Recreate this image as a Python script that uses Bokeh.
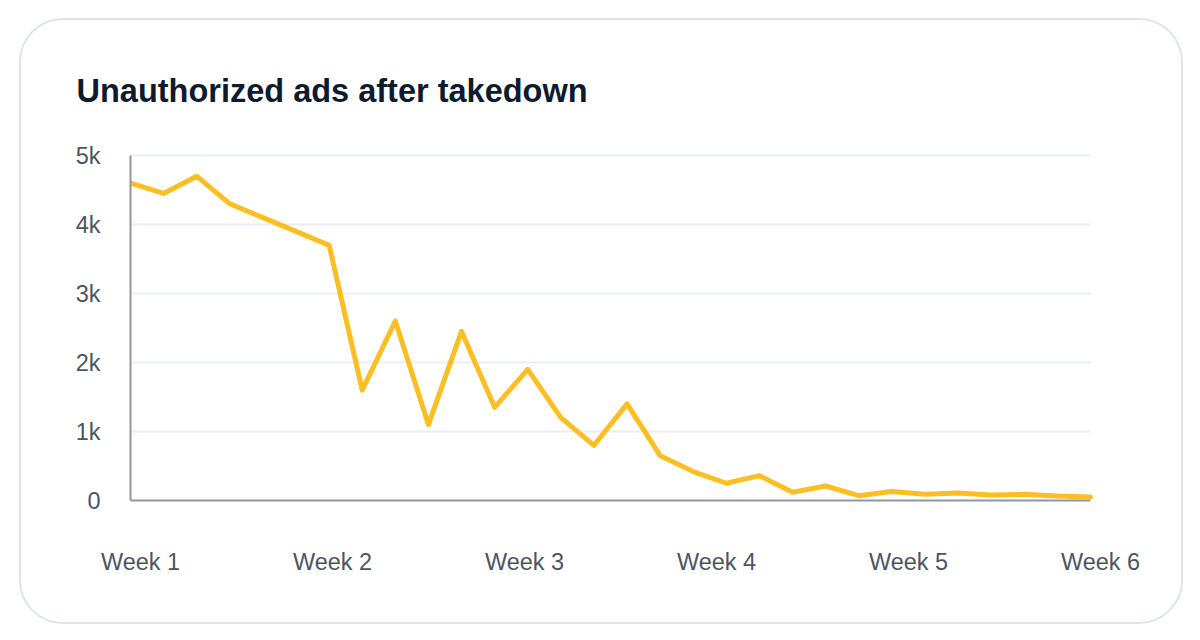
import numpy as np
from bokeh.plotting import figure
from bokeh.models import Range1d, FixedTicker, LinearAxis
from bokeh.embed import file_html
from bokeh.resources import INLINE

# Daily count of unauthorized ads still live after the takedown began
days = list(range(30))
ads = [4600, 4450, 4700, 4300, 4100, 3900, 3700, 1600, 2600, 1100,
       2450, 1350, 1900, 1200, 800, 1400, 650, 420, 250, 360,
       120, 210, 70, 130, 90, 110, 80, 90, 65, 50]

week_labels = ["Week 1", "Week 2", "Week 3", "Week 4", "Week 5", "Week 6"]
y_ticks = [0, 1000, 2000, 3000, 4000, 5000]
y_tick_labels = ["0", "1k", "2k", "3k", "4k", "5k"]

title_text = "Unauthorized ads after takedown"

FONT = "Liberation Sans"
LABEL_COLOR = "#4b5563"
AXIS_COLOR = "#8d97a6"
GRID_COLOR = "#e9eef5"
LINE_COLOR = "#fbbf24"

W, H = 1164, 606
PLOT_W = 960          # pixels spanned by the day axis
LABEL_SHIFT_PX = 10   # week labels sit slightly right of their day
px = (days[-1] - days[0]) / PLOT_W
shift = LABEL_SHIFT_PX * px
FRAME_W = PLOT_W + LABEL_SHIFT_PX

p = figure(
    width=W, height=H,
    x_range=Range1d(days[0], days[-1] + shift),
    y_range=Range1d(y_ticks[0], y_ticks[-1]),
    output_backend="svg", toolbar_location=None,
    x_axis_location=None, y_axis_location=None,
    min_border_left=109, min_border_right=W - 109 - FRAME_W,
    min_border_top=135, min_border_bottom=126,
    title=title_text,
)
# rounded card around the chart
p.styles = {
    "margin-left": "19px",
    "margin-top": "18px",
    "border": "2px solid #dbe3ee",
    "border-radius": "44px",
    "overflow": "hidden",
}
p.outline_line_color = None
p.background_fill_color = "white"
p.border_fill_color = "white"
p.grid.visible = False

p.title.align = "left"
p.title.offset = -54
p.title.standoff = 94
p.title.text_font = FONT
p.title.text_font_size = "32.5px"
p.title.text_font_style = "bold"
p.title.text_color = "#0f1b2d"

# horizontal grid lines across the day span
grid_y = y_ticks[1:-1]
p.segment(x0=[days[0]] * len(grid_y), x1=[days[-1]] * len(grid_y),
          y0=grid_y, y1=grid_y, line_color=GRID_COLOR, line_width=2)


def plain(ax):
    ax.major_tick_line_color = None
    ax.minor_tick_line_color = None
    ax.major_tick_out = 0
    ax.major_tick_in = 0
    ax.major_label_text_font = FONT
    ax.major_label_text_font_size = "23.5px"
    ax.major_label_text_color = LABEL_COLOR
    ax.axis_line_width = 2
    return ax


# axis line along the bottom, limited to the day span
x_line = plain(LinearAxis(ticker=FixedTicker(ticks=[]), bounds=(days[0], days[-1])))
x_line.axis_line_color = AXIS_COLOR
x_line.major_label_text_font_size = "0px"
x_line.major_label_standoff = 0

# week labels
week_pos = [float(v) + shift for v in np.linspace(days[0], days[-1], len(week_labels))]
x_labels = plain(LinearAxis(ticker=FixedTicker(ticks=week_pos),
                            major_label_overrides=dict(zip(week_pos, week_labels))))
x_labels.axis_line_color = None
x_labels.major_label_standoff = 48

# value axis
yaxis = plain(LinearAxis(ticker=FixedTicker(ticks=y_ticks),
                         major_label_overrides=dict(zip(y_ticks, y_tick_labels))))
yaxis.axis_line_color = AXIS_COLOR
yaxis.major_label_standoff = 30

# top grid line at 5k
top_line = plain(LinearAxis(ticker=FixedTicker(ticks=[]), bounds=(days[0], days[-1])))
top_line.axis_line_color = GRID_COLOR
top_line.major_label_text_font_size = "0px"
top_line.major_label_standoff = 0

p.add_layout(x_line, "below")
p.add_layout(x_labels, "below")
p.add_layout(yaxis, "left")
p.add_layout(top_line, "above")

p.line(days, ads, line_color=LINE_COLOR, line_width=5,
       line_join="round", line_cap="round")

open("out.html", "w").write(file_html(p, INLINE))
